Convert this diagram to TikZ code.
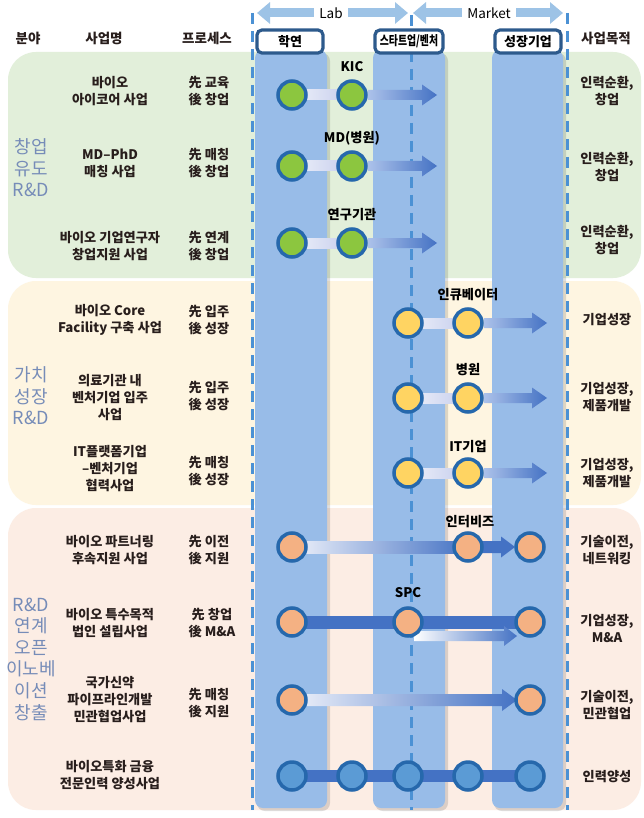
\documentclass[tikz,border=0pt]{standalone}
\usepackage{fontspec}
\setmainfont{Noto Sans CJK KR}
\usetikzlibrary{calc,arrows.meta}
\definecolor{bandG}{RGB}{226,239,218}
\definecolor{bandY}{RGB}{254,245,225}
\definecolor{bandP}{RGB}{252,237,228}
\definecolor{colB}{RGB}{152,188,232}
\definecolor{hdrB}{RGB}{157,195,230}
\definecolor{dashB}{RGB}{75,145,212}
\definecolor{boxB}{RGB}{45,90,140}
\definecolor{ringB}{RGB}{38,104,172}
\definecolor{darkB}{RGB}{68,114,196}
\definecolor{fillG}{RGB}{140,198,63}
\definecolor{fillY}{RGB}{255,212,98}
\definecolor{fillP}{RGB}{244,177,131}
\definecolor{fillB}{RGB}{91,155,213}
\definecolor{catC}{RGB}{118,140,184}
\definecolor{txt}{RGB}{40,30,28}
\definecolor{paleB}{RGB}{238,241,250}
\definecolor{lavB}{RGB}{196,204,236}
\definecolor{midB}{RGB}{172,194,234}
\pgfdeclarelayer{back}
\pgfdeclarelayer{mid}
\pgfsetlayers{back,mid,main}
\tikzset{
  bodytxt/.style={font=\fontsize{13.2}{17}\selectfont\bfseries, text=txt, align=center, inner sep=0pt},
  cattxt/.style={font=\fontsize{18}{21.6}\selectfont, text=catC, align=center, inner sep=0pt},
  hdrtxt/.style={font=\fontsize{13.5}{15}\selectfont\bfseries, text=txt, inner sep=0pt},
  lbltxt/.style={font=\fontsize{13.2}{14}\selectfont\bfseries, text=black, inner sep=0pt},
  hbox/.style={draw=boxB, line width=3.2pt, fill=white, rounded corners=5pt, minimum width=66pt, minimum height=23pt, inner sep=0pt, font=\fontsize{13}{14}\selectfont\bfseries, text=black},
  dot/.style={circle, draw=ringB, line width=3.5pt, minimum size=28pt, inner sep=0pt},
  gdot/.style={dot, fill=fillG},
  ydot/.style={dot, fill=fillY},
  pdot/.style={dot, fill=fillP},
  bdot/.style={dot, fill=fillB},
  vdash/.style={dashB, line width=3pt, dash pattern=on 11pt off 7pt},
  hdrarrow/.style={hdrB, line width=9pt, {Triangle[width=21pt,length=13pt]}-{Triangle[width=21pt,length=13pt]}},
  hdrword/.style={fill=white, inner xsep=5pt, inner ysep=1pt, font=\fontsize{13.5}{14}\selectfont, text=black},
  lightlink/.style={left color=paleB, right color=lavB},
  bluearrow/.style={left color=midB, right color=darkB},
  longarrow/.style={left color=paleB, right color=darkB},
}
% gradient arrow: from, tip, half bar, half head, head length, shading options
\newcommand\garrow[6]{%
  \shade[#6] ($(#1)+(0,-#3)$) -- ($(#2)+(-#5,-#3)$) -- ($(#2)+(-#5,-#4)$) -- (#2)
    -- ($(#2)+(-#5,#4)$) -- ($(#2)+(-#5,#3)$) -- ($(#1)+(0,#3)$) -- cycle;}
\newcommand\gbar[4]{%
  \shade[#4] ($(#1)+(0,-#3)$) rectangle ($(#2)+(0,#3)$);}
\begin{document}
\begin{tikzpicture}[x=1pt,y=-1pt]
\useasboundingbox (0,0) rectangle (643,818);
\begin{pgfonlayer}{back}
\fill[white] (0,0) rectangle (643,818);
% bands
\fill[bandG, rounded corners=28pt] (8,52) rectangle (641,278);
\fill[bandY, rounded corners=28pt] (8,281) rectangle (641,505);
\fill[bandP, rounded corners=28pt] (8,508) rectangle (641,810);
% columns
\foreach \a/\b in {255/327,373/445,492/563}{
  \fill[black, opacity=0.13, rounded corners=8pt] (\a+2,53) rectangle (\b+3,811);
  \fill[colB, rounded corners=8pt] (\a,50) rectangle (\b,808);
}
% dashed guides
\draw[vdash] (252,13) -- (252,810);
\draw[vdash] (411,15) -- (411,810);
\draw[vdash] (567,13) -- (567,810);
\end{pgfonlayer}
% header arrows
\coordinate (labL) at (257,13);
\coordinate (labR) at (408,13);
\coordinate (mkL) at (413,13);
\coordinate (mkR) at (563,13);
\draw[hdrarrow] (labL) -- (labR);
\draw[hdrarrow] (mkL) -- (mkR);
\node[hdrword] (lab) at (331,13) {Lab};
\node[hdrword] (mkt) at (489,13) {Market};
% column header boxes
\node[hbox] (hy) at (290,41.5) {학연};
\node[hbox, minimum width=68pt] (hs) at (409,41.5) {\scalebox{0.76}[1]{스타트업/벤처}};
\node[hbox] (hg) at (528,41.5) {성장기업};
% header texts
\node[hdrtxt] (h1) at (28,38) {분야};
\node[hdrtxt] (h2) at (104,38) {사업명};
\node[hdrtxt] (h3) at (207,38) {프로세스};
\node[hdrtxt] (h4) at (606,38) {사업목적};
% category labels
\node[cattxt] (c1) at (31,168) {창업\\유도\\R\&D};
\node[cattxt] (c2) at (31,396) {가치\\성장\\R\&D};
\node[cattxt] (c3) at (31,659) {R\&D\\연계\\오픈\\이노베\\이션\\창출};
% ---------- business names ----------
\node[bodytxt] (n1) at (110,91) {바이오\\아이코어 사업};
\node[bodytxt] (n2) at (110,163) {MD--PhD\\매칭 사업};
\node[bodytxt] (n3) at (110,246) {바이오 기업연구자\\창업지원 사업};
\node[bodytxt] (n4) at (110,320) {바이오 Core\\Facility 구축 사업};
\node[bodytxt] (n5) at (110,398) {의료기관 내\\벤처기업 입주\\사업};
\node[bodytxt] (n6) at (110,469) {IT플랫폼기업\\--벤처기업\\협력사업};
\node[bodytxt] (n7) at (110,550) {바이오 파트너링\\후속지원 사업};
\node[bodytxt] (n8) at (110,623) {바이오 특수목적\\법인 설립사업};
\node[bodytxt] (n9) at (110,700) {국가신약\\파이프라인개발\\민관협업사업};
\node[bodytxt] (n10) at (110,775) {바이오특화 금융\\전문인력 양성사업};
% ---------- process ----------
\node[bodytxt] (q1) at (209,91) {先 교육\\後 창업};
\node[bodytxt] (q2) at (209,163) {先 매칭\\後 창업};
\node[bodytxt] (q3) at (209,246) {先 연계\\後 창업};
\node[bodytxt] (q4) at (209,320) {先 입주\\後 성장};
\node[bodytxt] (q5) at (209,396) {先 입주\\後 성장};
\node[bodytxt] (q6) at (209,471) {先 매칭\\後 성장};
\node[bodytxt] (q7) at (209,550) {先 이전\\後 지원};
\node[bodytxt] (q8) at (212,623) {先 창업\\後 M\&A};
\node[bodytxt] (q9) at (209,703) {先 매칭\\後 지원};
% ---------- purposes ----------
\node[bodytxt] (r1) at (607,91.5) {인력순환,\\창업};
\node[bodytxt] (r2) at (607,167) {인력순환,\\창업};
\node[bodytxt] (r3) at (607,240) {인력순환,\\창업};
\node[bodytxt] (r4) at (607,320) {기업성장};
\node[bodytxt] (r5) at (607,397) {기업성장,\\제품개발};
\node[bodytxt] (r6) at (607,473) {기업성장,\\제품개발};
\node[bodytxt] (r7) at (607,550) {기술이전,\\네트워킹};
\node[bodytxt] (r8) at (607,629) {기업성장,\\M\&A};
\node[bodytxt] (r9) at (607,705) {기술이전,\\민관협업};
\node[bodytxt] (r10) at (607,777) {인력양성};
% ---------- circles ----------
\node[gdot] (g1a) at (292,95) {};  \node[gdot] (g1b) at (352,95) {};
\node[gdot] (g2a) at (292,166) {}; \node[gdot] (g2b) at (352,166) {};
\node[gdot] (g3a) at (292,243) {}; \node[gdot] (g3b) at (352,243) {};
\node[ydot] (y1a) at (408,323) {}; \node[ydot] (y1b) at (468,323) {};
\node[ydot] (y2a) at (408,398) {}; \node[ydot] (y2b) at (468,398) {};
\node[ydot] (y3a) at (408,473) {}; \node[ydot] (y3b) at (468,473) {};
\node[pdot] (p1a) at (292,547) {}; \node[pdot] (p1d) at (468,547) {}; \node[pdot] (p1e) at (530,547) {};
\node[pdot] (p2a) at (292,622) {}; \node[pdot] (p2c) at (408,622) {}; \node[pdot] (p2e) at (530,622) {};
\node[pdot] (p3a) at (292,700) {}; \node[pdot] (p3e) at (530,700) {};
\node[bdot] (b1) at (292,776) {}; \node[bdot] (b2) at (352,776) {}; \node[bdot] (b3) at (408,776) {};
\node[bdot] (b4) at (468,776) {}; \node[bdot] (b5) at (530,776) {};
% circle labels
\node[lbltxt] (l1) at (352,67) {KIC};
\node[lbltxt] (l2) at (352,138) {MD(병원)};
\node[lbltxt] (l3) at (352,215) {연구기관};
\node[lbltxt] (l4) at (468,295) {인큐베이터};
\node[lbltxt] (l5) at (468,370) {병원};
\node[lbltxt] (l6) at (468,447) {IT기업};
\node[lbltxt] (l7) at (470,522) {인터비즈};
\node[lbltxt] (l8) at (408,593) {SPC};
% ---------- connectors (behind circles) ----------
\coordinate (g1t) at (437,95);
\coordinate (g2t) at (437,166);
\coordinate (g3t) at (437,243);
\coordinate (y1t) at (547,323);
\coordinate (y2t) at (547,398);
\coordinate (y3t) at (547,473);
\coordinate (p1t) at (515,547);
\coordinate (p2s) at (414,636);
\coordinate (p2t) at (517,636);
\coordinate (p3t) at (517,700);
\begin{pgfonlayer}{mid}
% green rows
\gbar{g1a.center}{g1b.center}{5}{lightlink}
\gbar{g2a.center}{g2b.center}{5}{lightlink}
\gbar{g3a.center}{g3b.center}{5}{lightlink}
\garrow{g1b.east}{g1t}{5}{10.5}{15}{bluearrow}
\garrow{g2b.east}{g2t}{5}{10.5}{15}{bluearrow}
\garrow{g3b.east}{g3t}{5}{10.5}{15}{bluearrow}
% yellow rows
\gbar{y1a.center}{y1b.center}{5}{lightlink}
\gbar{y2a.center}{y2b.center}{5}{lightlink}
\gbar{y3a.center}{y3b.center}{5}{lightlink}
\garrow{y1b.east}{y1t}{5}{10.5}{15}{bluearrow}
\garrow{y2b.east}{y2t}{5}{10.5}{15}{bluearrow}
\garrow{y3b.east}{y3t}{5}{10.5}{15}{bluearrow}
% peach rows
\gbar{p1a.center}{p1d.center}{6}{longarrow}
\garrow{p1d.center}{p1t}{6}{10.5}{14}{left color=darkB, right color=darkB}
\fill[darkB] ($(p2a.center)+(0,-6.5)$) rectangle ($(p2e.center)+(0,6.5)$);
\garrow{p2s}{p2t}{5}{10}{13}{left color=white, right color=darkB}
\garrow{p3a.center}{p3t}{6}{11}{15}{longarrow}
\fill[darkB] ($(b1.center)+(0,-6)$) rectangle ($(b5.center)+(0,6)$);
\end{pgfonlayer}
\end{tikzpicture}
\end{document}
